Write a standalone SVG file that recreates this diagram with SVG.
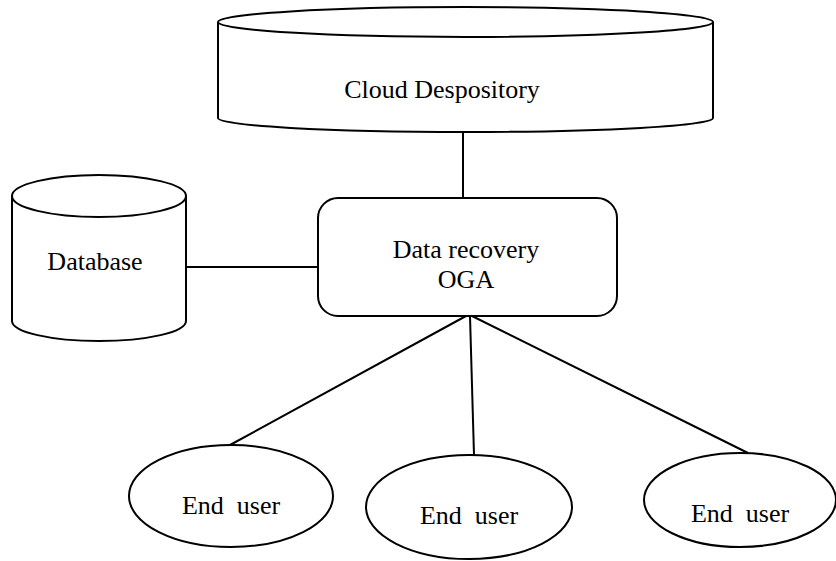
<svg xmlns="http://www.w3.org/2000/svg" width="836" height="561" viewBox="0 0 836 561">
<style>
.s{fill:#fff;stroke:#000;stroke-width:2}
.c{stroke:#000;stroke-width:2;fill:none}
.t{font-family:"Liberation Serif",serif;font-size:26px;fill:#000;text-anchor:middle}
</style>
<rect width="836" height="561" fill="#fff"/>
<g id="connectors">
<line class="c" x1="466" y1="316" x2="230" y2="445"/>
<line class="c" x1="470" y1="316" x2="474" y2="455"/>
<line class="c" x1="472" y1="316" x2="748" y2="453"/>
<line class="c" x1="463" y1="132" x2="463" y2="198"/>
<line class="c" x1="186" y1="267" x2="318" y2="267"/>
</g>
<g id="cloud">
<path class="s" d="M218 22 L218 118 A247.5 14 0 0 0 713 118 L713 22"/>
<ellipse class="s" cx="465.5" cy="22" rx="247.5" ry="15"/>
<text class="t" x="442" y="98">Cloud Despository</text>
</g>
<g id="database">
<path class="s" d="M12 196 L12 321 A87 20 0 0 0 186 321 L186 196"/>
<ellipse class="s" cx="99" cy="196" rx="87" ry="21"/>
<text class="t" x="95" y="270">Database</text>
</g>
<g id="oga">
<rect class="s" x="318" y="198" width="299" height="118" rx="20"/>
<text class="t" x="466" y="258">Data recovery</text>
<text class="t" x="466" y="288">OGA</text>
</g>
<g id="user1">
<ellipse class="s" cx="231" cy="496" rx="102" ry="51"/>
<text class="t" x="231" y="514" xml:space="preserve">End  user</text>
</g>
<g id="user2">
<ellipse class="s" cx="469" cy="507" rx="103" ry="52"/>
<text class="t" x="469" y="524" xml:space="preserve">End  user</text>
</g>
<g id="user3">
<ellipse class="s" cx="740" cy="500" rx="96" ry="47"/>
<text class="t" x="740" y="522" xml:space="preserve">End  user</text>
</g>
</svg>
